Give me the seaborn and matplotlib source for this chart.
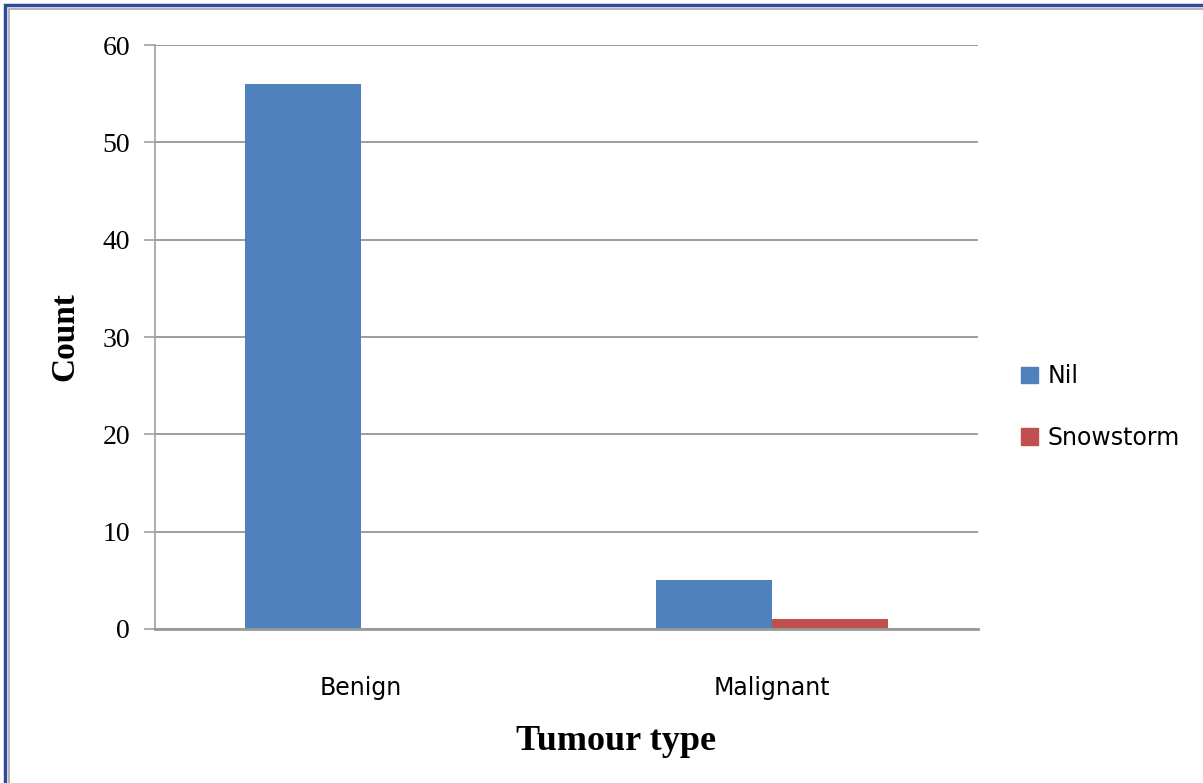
import seaborn as sns
import matplotlib.pyplot as plt
import matplotlib.patches as mpatches
import pandas as pd

# data
tumour_types = ['Benign', 'Malignant']
series = ['Nil', 'Snowstorm']
nil_counts = [56, 5]
snowstorm_counts = [0, 1]

df = pd.DataFrame({
    'Tumour type': tumour_types * 2,
    'Series': ['Nil'] * 2 + ['Snowstorm'] * 2,
    'Count': nil_counts + snowstorm_counts,
})

sns.set_style('white')
plt.rcParams['font.family'] = ['Liberation Serif', 'DejaVu Serif']
plt.rcParams['text.color'] = 'black'
plt.rcParams['axes.labelcolor'] = 'black'
plt.rcParams['xtick.color'] = 'black'
plt.rcParams['ytick.color'] = 'black'
narrow = ['DejaVu Sans Condensed', 'Liberation Sans Narrow', 'DejaVu Sans']

fig = plt.figure(figsize=(12.03, 7.83), dpi=100)
ax = fig.add_axes([0.1288, 0.1967, 0.684, 0.7458])

palette = {'Nil': '#4F81BD', 'Snowstorm': '#C0504D'}
sns.barplot(data=df, x='Tumour type', y='Count', hue='Series', hue_order=series,
            palette=palette, width=0.564, gap=0, saturation=1, ax=ax,
            edgecolor='none', legend=True)

ax.set_ylim(0, 60)
ax.set_yticks(range(0, 61, 10))
ax.yaxis.grid(True, color='#8c8c8c', linewidth=1.2)
ax.set_axisbelow(True)
for side in ['top', 'right']:
    ax.spines[side].set_visible(False)
ax.spines['left'].set_color('#a0a0a0')
ax.spines['left'].set_linewidth(1.2)
ax.spines['bottom'].set_color('#999999')
ax.spines['bottom'].set_linewidth(2)
ax.tick_params(axis='y', left=True, length=8, width=1.2, color='#a0a0a0',
               labelsize=20, pad=10)
ax.tick_params(axis='x', bottom=False, pad=30)
for lbl in ax.get_xticklabels():
    lbl.set_fontfamily(narrow)
    lbl.set_fontsize(17)

ax.set_xlabel('Tumour type', fontsize=26, fontweight='bold')
ax.xaxis.set_label_coords(0.56, -0.165)
ax.set_ylabel('Count', fontsize=24, fontweight='bold', labelpad=16)

handles = [mpatches.Patch(color=palette[s], label=s) for s in series]
leg = ax.legend(handles=handles, loc='center left', bbox_to_anchor=(1.027, 0.38),
                frameon=False, handlelength=0.7, handleheight=0.7,
                handletextpad=0.4, labelspacing=1.6,
                prop={'family': narrow, 'size': 17})

# frame around the picture (cut on right and bottom)
fig.patches.append(mpatches.Rectangle((5 / 1203, -0.1), 1.2, 1 - 5 / 783 + 0.1,
                                      transform=fig.transFigure, fill=False,
                                      edgecolor='#2E4C9A', linewidth=2.5))
fig.patches.append(mpatches.Rectangle((9 / 1203, -0.1), 1.2, 1 - 9 / 783 + 0.1,
                                      transform=fig.transFigure, fill=False,
                                      edgecolor='#a8a8a8', linewidth=1.2))

plt.savefig('out.png', dpi=100)
